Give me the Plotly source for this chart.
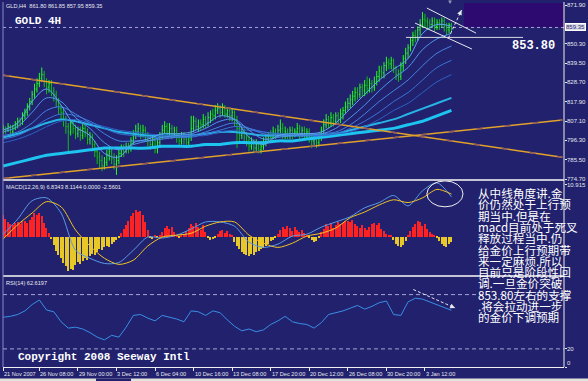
import plotly.graph_objects as go

# ---------------- data ----------------
bar_index = list(range(1, 188))

close = [803, 802, 804, 801, 803,
         805, 807, 806, 810, 812,
         815, 818, 822, 825,
         828, 831, 833, 829,
         826, 828, 824, 822,
         818, 814, 812, 808,
         804, 801, 806, 803,
         800, 802, 799, 803, 801, 797, 798,
         794, 790, 787, 785, 782, 784,
         788, 790, 786, 783, 785, 789,
         791, 790, 793, 792,
         796, 799, 801, 803, 800, 802, 799,
         796, 794, 797, 792, 795,
         799, 802, 804, 801, 803, 800, 802,
         798, 796, 799, 797, 795, 798,
         803, 807, 804, 806,
         805, 808, 806, 809, 811,
         810, 813, 814, 812, 815, 811, 813, 810, 812, 808,
         803, 799, 801, 798,
         796, 793, 795, 792, 794, 791, 793, 795,
         797, 799, 798, 801, 800, 802, 803, 800,
         801, 799, 802, 800, 801, 803, 800, 802, 799, 801, 798,
         796, 797, 795, 798,
         802, 805, 808, 806,
         809, 807, 810, 808, 811, 813,
         815, 817, 819, 821,
         823, 822, 826, 824,
         827, 825, 828, 826, 829,
         832, 835, 834, 838,
         840, 839, 841, 837,
         833, 832,
         838, 842, 845, 848,
         852, 855, 854, 858, 861,
         864, 863, 862,
         861, 863, 860, 862, 861, 863, 860,
         858, 861, 859.35]

high = [805, 804, 806, 805, 805,
        807, 809, 809, 812, 814,
        817, 820, 824, 828,
        831, 834, 837, 835,
        831, 830, 830, 826,
        824, 820, 816, 814,
        810, 806, 808, 808,
        805, 804, 804, 806, 805, 803, 801,
        800, 796, 792, 790, 788, 787,
        791, 793, 792, 789, 788, 792,
        794, 794, 795, 795,
        798, 802, 805, 806, 805, 805, 804,
        801, 799, 799, 799, 797,
        801, 805, 807, 806, 806, 805, 804,
        804, 800, 801, 801, 799, 800,
        810, 810, 809, 808,
        808, 811, 810, 812, 813,
        814, 816, 817, 816, 817, 816, 815, 815, 814, 813,
        810, 806, 804, 803,
        801, 799, 798, 797, 797, 796, 796, 798,
        800, 801, 802, 804, 803, 805, 808, 806,
        804, 803, 804, 804, 803, 806, 805, 804, 804, 803, 803,
        800, 799, 798, 800,
        804, 808, 811, 810,
        812, 811, 812, 812, 814, 815,
        818, 820, 822, 824,
        826, 826, 828, 828,
        830, 832, 831, 830, 832,
        835, 838, 838, 840,
        843, 842, 843, 842,
        838, 836,
        840, 844, 848, 850,
        854, 857, 858, 860, 864,
        868, 867, 865,
        864, 865, 865, 864, 864, 865, 865,
        862, 862, 862]

low = [800, 800, 801, 799, 800,
       802, 803, 804, 805, 808,
       810, 813, 816, 820,
       823, 826, 829, 826,
       822, 823, 821, 818,
       815, 811, 808, 804,
       800, 790, 799, 800,
       797, 798, 796, 797, 798, 794, 794,
       791, 787, 783, 781, 779, 780,
       782, 785, 783, 780, 777, 783,
       787, 787, 789, 789,
       790, 794, 797, 799, 797, 798, 796,
       793, 791, 792, 789, 789,
       793, 797, 800, 799, 799, 797, 798,
       795, 793, 794, 794, 792, 793,
       796, 801, 802, 801,
       802, 803, 803, 804, 806,
       807, 808, 811, 809, 810, 809, 809, 807, 807, 804,
       792, 796, 797, 795,
       793, 790, 791, 789, 790, 789, 789, 791,
       793, 795, 795, 797, 797, 798, 799, 797,
       797, 797, 797, 797, 798, 799, 797, 798, 796, 797, 795,
       792, 793, 792, 793,
       796, 800, 803, 803,
       804, 804, 805, 805, 806, 808,
       811, 813, 814, 816,
       818, 819, 820, 821,
       821, 822, 823, 823, 824,
       827, 829, 831, 831,
       835, 836, 836, 834,
       830, 829,
       830, 835, 839, 842,
       846, 849, 851, 852, 855,
       859, 859, 858,
       858, 859, 857, 858, 858, 859, 857,
       855, 856, 857]

first_open = 802
open_ = [first_open] + close[:-1]

# moving averages, read every 6 bars
ma_x = list(range(1, 188, 6))
ma_fast1 = [802, 806, 818, 825, 816, 804, 799, 789, 787, 795, 797, 800, 800, 801, 805, 810,
            808, 798, 794, 799, 800, 800, 801, 806, 814, 822, 830, 836, 842, 856, 861, 860]
ma_fast2 = [801, 804, 812, 820, 818, 809, 803, 795, 791, 794, 796, 798, 799, 800, 803, 807,
            808, 802, 797, 798, 799, 800, 800, 803, 809, 816, 824, 831, 837, 847, 853, 856]
ma_fast3 = [799, 801, 806, 813, 815, 811, 806, 800, 796, 796, 796, 797, 798, 799, 801, 804,
            806, 803, 800, 799, 799, 799, 800, 801, 805, 811, 818, 824, 830, 838, 845, 849]
ma_fast4 = [797, 799, 803, 808, 811, 810, 807, 803, 800, 799, 798, 798, 798, 798, 800, 802,
            804, 803, 801, 800, 799, 799, 799, 800, 803, 807, 812, 818, 823, 830, 837, 841]
ma_fast5 = [795, 797, 800, 804, 807, 808, 806, 804, 802, 801, 800, 799, 799, 799, 799, 801,
            802, 802, 801, 800, 800, 799, 799, 800, 801, 804, 808, 813, 817, 823, 829, 833]
ma_mid = [798, 800, 803, 806, 808, 807, 805, 803, 801, 800, 799, 799, 799, 799, 800, 801,
          801, 800, 799, 799, 799, 799, 799, 800, 802, 804, 806, 808, 811, 814, 817, 820]
ma_slow = [782, 784, 786, 788, 789, 790, 791, 792, 792, 792, 792, 793, 793, 793, 794, 794,
           795, 795, 795, 796, 796, 797, 798, 799, 800, 801, 802, 803, 805, 807, 810, 813]

# trend lines (two end points each)
trend_x = [1, 233]
trend_down = [832.7, 786.9]
trend_up = [775.0, 807.7]

# hand-drawn channel in the top right
chan_upper_x = [176.8, 197.2]
chan_upper_y = [870.2, 856.2]
chan_lower_x = [171.9, 195.5]
chan_lower_y = [861.8, 847.3]
arrow_x = [185.7, 191.2]
arrow_y = [853.3, 869.1]
support_x = [168.1, 216.7]
support_level = 853.80
bid_price = 859.35

# MACD
macd_hist = [4.5, 3.8, 3.0, 2.6,
             2.4, 2.8, 3.0, 2.6, 3.2, 3.4, 2.9, 3.6,
             4.2, 4.9, 4.6, 5.0, 4.4,
             2.8, 1.8, 0.8,
             -0.6, -1.8, -3.0, -3.9, -4.6, -5.6, -6.2, -7.3, -6.8, -7.0, -6.0, -5.4, -5.8,
             -5.2, -4.6, -5.0, -4.2, -3.6, -3.9, -3.2, -2.6, -2.9, -2.3, -1.9, -2.2, -1.5, -1.2, -0.8, -0.4,
             0.8, 1.6, 2.5, 3.4, 4.3, 5.0, 5.6, 5.2, 5.5, 4.6, 3.0, 1.4,
             -0.3, -0.5, 0.2, -0.2, 0.4, 0.9,
             1.8, 2.3, 1.6, 2.1, 1.0,
             0.3, -0.2, 0.4, 0.6, 1.2, 1.9,
             2.6, 2.2, 2.8, 2.0, 1.5, 2.4, 0.9,
             -0.4, -0.8, -0.6, -0.3,
             0.5, 1.1, 1.3, 0.8, 1.2, 0.6, 0.2,
             -1.2, -2.0, -2.6, -3.2, -3.6, -3.9, -4.1, -3.7, -3.8, -3.3, -3.0, -2.6, -2.4, -1.9, -1.6, -1.0, -0.7, -0.3,
             0.6, 1.3, 2.1, 1.6, 2.3, 1.8, 1.2, 2.0, 1.4, 0.9, 1.3, 0.7, 0.4, -0.2,
             -0.8, -1.1, -0.9, -0.4,
             0.9, 1.7, 2.6, 2.2, 2.8, 1.9, 2.5, 3.1, 2.6, 2.9, 3.4, 3.2, 3.0, 3.5, 2.7,
             2.2, 1.8, 2.5, 1.9, 1.4, 2.0, 2.6, 2.9, 2.4, 2.8, 1.6, 1.1, 0.6, 0.3, 0.2,
             -0.8, -1.5, -2.0, -2.2, -1.7, -0.9,
             0.4, 1.2, 2.0, 2.6, 3.4, 3.0, 2.2, 2.7, 1.7, 1.0, 0.6, 0.2,
             -0.3, -0.9, -1.5, -1.9, -2.1, -1.6, -1.2]
macd_main = [0.4, 3.6, 7.5, 8.1, 4.9, -3.0, -4.7, -5.8, -5.6, -3.0, -0.2, -0.4, 0.2, 1.5, 3.0, 3.0,
             2.1, -1.3, -2.4, -1.7, 0.0, 0.4, 1.9, 3.0, 4.1, 6.0, 7.1, 8.6, 6.4, 9.6, 11.3, 8.3]
macd_signal = [-0.6, 2.4, 4.9, 7.3, 6.2, 1.3, -2.1, -4.7, -6.0, -5.1, -2.1, -0.2, 0.2, 0.6, 2.1, 3.0,
               3.0, 0.2, -1.5, -2.4, -1.5, 0.0, 0.6, 1.7, 3.9, 5.1, 6.6, 7.7, 7.1, 8.1, 9.9, 8.9]
macd_circle_x = [176.8, 191.8]
macd_circle_y = [6.2, 11.7]

# RSI, read every 3 bars
rsi_x = list(range(1, 188, 3))
rsi = [55, 56, 58, 62, 69, 74, 63, 61, 50, 43, 44, 42, 38, 33, 30, 35, 33, 44, 57, 58, 54,
       51, 57, 55, 53, 50, 62, 61, 57, 62, 60, 52, 45, 40, 42, 39, 41, 47, 51, 56, 50, 48,
       47, 43, 49, 58, 60, 62, 65, 68, 64, 67, 71, 73, 58, 57, 72, 76, 75, 72, 69, 66, 62.6]
rsi_levels = [80, 20]
rsi_arrow_x = [171.2, 188.5]
rsi_arrow_y = [85.6, 65.2]

# axis labels
x_tick_vals = [1, 16, 32, 48, 64, 80, 96, 112, 128, 144, 160, 176]
x_tick_text = ["21 Nov 2007", "26 Nov 08:00", "29 Nov 00:00", "3 Dec 12:00", "6 Dec 04:00",
               "10 Dec 16:00", "13 Dec 08:00", "17 Dec 20:00", "20 Dec 12:00", "26 Dec 08:00",
               "30 Dec 20:00", "3 Jan 12:00"]
price_ticks = [871.90, 850.30, 839.50, 828.70, 817.90, 807.10, 796.30, 785.50, 774.70]
macd_ticks = [10.915]
rsi_ticks = [20]

note_lines = ["从中线角度讲.金", "价仍然处于上行预", "期当中.但是在", "macd目前处于死叉",
              "释放过程当中.仍", "给金价上行预期带", "来一定麻烦.所以", "目前只是阶段性回",
              "调.一旦金价突破", "853.80左右的支撑", ".将会拉动进一步", "的金价下调预期"]

assert len(close) == len(high) == len(low) == len(macd_hist) == 187
assert len(rsi) == len(rsi_x)

# ---------------- layout helpers ----------------
W, H = 588, 381
ML, MR, MT, MB = 3, 24, 2, 14
PW = W - ML - MR
PH = H - MT - MB
BG = "#21216d"
TINY = 5.6


def fx(px):
    return (px - ML) / PW


def fy(py):
    return (H - MB - py) / PH


fig = go.Figure()

# price bars
fig.add_trace(go.Ohlc(x=bar_index, open=open_, high=high, low=low, close=close,
                      increasing_line_color="#22ff22", decreasing_line_color="#10c010",
                      line_width=1, tickwidth=0.35, xaxis="x", yaxis="y",
                      hoverinfo="skip", showlegend=False))

ma_styles = [(ma_slow, "#1ec4f0", 3), (ma_mid, "#26b4e6", 2),
             (ma_fast5, "#2e62c4", 1), (ma_fast4, "#3a74d4", 1), (ma_fast3, "#4585e0", 1),
             (ma_fast2, "#5096ea", 1), (ma_fast1, "#5ca8f2", 1)]
for vals, col, w in ma_styles:
    fig.add_trace(go.Scatter(x=ma_x, y=vals, mode="lines", xaxis="x", yaxis="y",
                             line=dict(color=col, width=w, shape="spline", smoothing=1.0),
                             hoverinfo="skip", showlegend=False))

for tl in (trend_down, trend_up):
    fig.add_trace(go.Scatter(x=trend_x, y=tl, mode="lines", xaxis="x", yaxis="y",
                             line=dict(color="#e2a22a", width=1.5),
                             hoverinfo="skip", showlegend=False))
    fig.add_trace(go.Scatter(x=trend_x, y=tl, mode="lines", xaxis="x", yaxis="y",
                             line=dict(color="#8c5a60", width=1.5, dash="6px,22px"),
                             hoverinfo="skip", showlegend=False))

for xs, ys in ((chan_upper_x, chan_upper_y), (chan_lower_x, chan_lower_y)):
    fig.add_trace(go.Scatter(x=xs, y=ys, mode="lines", xaxis="x", yaxis="y",
                             line=dict(color="#e8e8f0", width=1),
                             hoverinfo="skip", showlegend=False))
fig.add_trace(go.Scatter(x=support_x, y=[support_level, support_level], mode="lines",
                         xaxis="x", yaxis="y", line=dict(color="#d8d8e0", width=1),
                         hoverinfo="skip", showlegend=False))
fig.add_trace(go.Scatter(x=arrow_x, y=arrow_y, mode="lines", xaxis="x", yaxis="y",
                         line=dict(color="#e8e8f0", width=1, dash="3px,2px"),
                         hoverinfo="skip", showlegend=False))

# MACD
fig.add_trace(go.Bar(x=bar_index, y=macd_hist, xaxis="x", yaxis="y2", width=0.55,
                     marker=dict(color=["#ff2222" if v >= 0 else "#e8c828" for v in macd_hist],
                                 line=dict(width=0)),
                     hoverinfo="skip", showlegend=False))
fig.add_trace(go.Scatter(x=ma_x, y=macd_main, mode="lines", xaxis="x", yaxis="y2",
                         line=dict(color="#5b9be6", width=1, shape="spline", smoothing=0.8),
                         hoverinfo="skip", showlegend=False))
fig.add_trace(go.Scatter(x=ma_x, y=macd_signal, mode="lines", xaxis="x", yaxis="y2",
                         line=dict(color="#f0c424", width=1, shape="spline", smoothing=0.8),
                         hoverinfo="skip", showlegend=False))

# RSI
fig.add_trace(go.Scatter(x=rsi_x, y=rsi, mode="lines", xaxis="x", yaxis="y3",
                         line=dict(color="#3a8fe6", width=1),
                         hoverinfo="skip", showlegend=False))
fig.add_trace(go.Scatter(x=rsi_arrow_x, y=rsi_arrow_y, mode="lines", xaxis="x", yaxis="y3",
                         line=dict(color="#e8e8f0", width=1, dash="3px,2px"),
                         hoverinfo="skip", showlegend=False))

shapes = [
    dict(type="rect", xref="paper", yref="paper", x0=fx(464), x1=1, y0=fy(27), y1=fy(3),
         fillcolor="#2d0a70", line=dict(width=0), layer="below"),
    dict(type="line", xref="paper", yref="y", x0=0, x1=1, y0=bid_price, y1=bid_price,
         line=dict(color="#a8a0d8", width=1, dash="dot"), layer="below"),
    dict(type="circle", xref="x", yref="y2", x0=macd_circle_x[0], x1=macd_circle_x[1],
         y0=macd_circle_y[0], y1=macd_circle_y[1], line=dict(color="#f0f0f0", width=1)),
    dict(type="line", xref="paper", yref="paper", x0=0, x1=1, y0=fy(180), y1=fy(180),
         line=dict(color="#c4c4d4", width=2)),
    dict(type="line", xref="paper", yref="paper", x0=0, x1=1, y0=fy(276), y1=fy(276),
         line=dict(color="#c4c4d4", width=2)),
    dict(type="line", xref="paper", yref="paper", x0=1, x1=1, y0=0, y1=1,
         line=dict(color="#f0f0f0", width=1)),
    dict(type="line", xref="paper", yref="paper", x0=0, x1=0, y0=0, y1=1,
         line=dict(color="#8c86c0", width=1)),
    dict(type="rect", xref="paper", yref="paper", x0=fx(0), x1=fx(588), y0=fy(381.5),
         y1=fy(378.5), fillcolor="#e4e2dc", line=dict(width=0), layer="below"),
    dict(type="rect", xref="paper", yref="paper", x0=fx(96), x1=fx(131), y0=fy(381.5),
         y1=fy(378.5), fillcolor=BG, line=dict(width=0), layer="below"),
]
for lv in rsi_levels:
    shapes.append(dict(type="line", xref="paper", yref="y3", x0=0, x1=1, y0=lv, y1=lv,
                       line=dict(color="#a8a4d8", width=1, dash="4px,3px"), layer="below"))

SMALL = "Liberation Sans"
MONO = "Liberation Mono"


def label(text, x, y, size, family=SMALL, color="#e8e8f0", xanchor="left", **kw):
    d = dict(xref="paper", yref="paper", x=fx(x), y=fy(y), text=text, showarrow=False,
             xanchor=xanchor, yanchor="middle", borderpad=0,
             font=dict(size=size, family=family, color=color))
    d.update(kw)
    return d


def axis_label(text, value, yref, yanchor="middle"):
    return dict(xref="paper", yref=yref, x=fx(566), y=value, text=text, showarrow=False,
                xanchor="left", yanchor=yanchor, borderpad=0,
                font=dict(size=6.0, family=SMALL, color="#e8e8f0"))


annotations = [
    label("GLD,H4  861.80 861.85 857.95 859.35", 5, 6, TINY),
    label("<b>GOLD 4H</b>", 14, 21, 11, MONO, "#ffffff"),
    label("<b>853.80</b>", 511, 46, 12, MONO, "#ffffff"),
    label("MACD(12,26,9) 6.8343 8.1144 0.0000 -2.5601", 5, 187, TINY),
    label("RSI(14) 62.6197", 5, 283, TINY),
    label("<b>Copyright 2008 Seeway Intl</b>", 17, 357, 11, MONO, "#ffffff"),
    label("859.35", 565, 27, 6.0, SMALL, "#1e1e6e", bgcolor="#dcdce8",
          bordercolor="#ffffff", borderwidth=1),
    label("▼", 450, 2, 6, SMALL, "#9a9ab0", xanchor="center"),
    dict(xref="x", yref="y", x=arrow_x[1], y=arrow_y[1], axref="x", ayref="y",
         ax=arrow_x[1] - 0.6, ay=arrow_y[1] - 1.7, text="", showarrow=True,
         arrowhead=2, arrowsize=1, arrowwidth=1, arrowcolor="#e8e8f0"),
    dict(xref="x", yref="y3", x=rsi_arrow_x[1], y=rsi_arrow_y[1], axref="x", ayref="y3",
         ax=rsi_arrow_x[1] - 1.2, ay=rsi_arrow_y[1] + 1.4, text="", showarrow=True,
         arrowhead=2, arrowsize=1, arrowwidth=1, arrowcolor="#e8e8f0"),
]
for v in price_ticks:
    if abs(v - bid_price) > 3:
        annotations.append(axis_label(f"{v:.2f}", v, "y"))
for v in macd_ticks:
    annotations.append(axis_label(f"{v:.3f}", v, "y2"))
for v in rsi_ticks:
    annotations.append(axis_label(f"{v:d}", v, "y3"))
annotations.append(axis_label("0", 0, "y3", yanchor="bottom"))
for tv, tt in zip(x_tick_vals, x_tick_text):
    annotations.append(dict(xref="x", yref="paper", x=tv, y=fy(373.5), text=tt,
                            showarrow=False, xanchor="left", yanchor="middle", borderpad=0,
                            font=dict(size=TINY, family=SMALL, color="#e8e8f0")))
for i, line in enumerate(note_lines):
    annotations.append(label(line, 477, 193 + i * 11.3, 11.6, "Noto Sans CJK SC", "#ffffff"))

fig.update_layout(
    width=W, height=H, margin=dict(l=ML, r=MR, t=MT, b=MB, autoexpand=False),
    paper_bgcolor=BG, plot_bgcolor=BG, showlegend=False, bargap=0,
    xaxis=dict(domain=[0, 1], range=[0.91, 233.7], anchor="y3", tickvals=x_tick_vals,
               showticklabels=False, ticks="outside", ticklen=3, tickcolor="#e8e8f0",
               showgrid=False, zeroline=False, showline=True, linecolor="#f0f0f0",
               linewidth=1, automargin=False, rangeslider=dict(visible=False),
               fixedrange=True),
    yaxis=dict(domain=[fy(179.5), 1], range=[774.44, 873.58], anchor="x", side="right",
               tickvals=price_ticks, showticklabels=False, ticks="outside", ticklen=2,
               tickcolor="#e8e8f0", showgrid=False, zeroline=False, automargin=False,
               fixedrange=True),
    yaxis2=dict(domain=[fy(275.5), fy(180.5)], range=[-8.35, 11.78], anchor="x", side="right",
                tickvals=macd_ticks, showticklabels=False, ticks="outside", ticklen=2,
                tickcolor="#e8e8f0", showgrid=False, zeroline=False, automargin=False,
                fixedrange=True),
    yaxis3=dict(domain=[0, fy(276.5)], range=[0, 100], anchor="x", side="right",
                tickvals=[20, 0], showticklabels=False, ticks="outside", ticklen=2,
                tickcolor="#e8e8f0", showgrid=False, zeroline=False, automargin=False,
                fixedrange=True),
    shapes=shapes, annotations=annotations,
)

fig.write_html("out.html", config=dict(displayModeBar=False),
               post_script="document.body.style.margin='0';"
                           "document.body.style.overflow='hidden';"
                           "document.body.style.background='" + BG + "';")
